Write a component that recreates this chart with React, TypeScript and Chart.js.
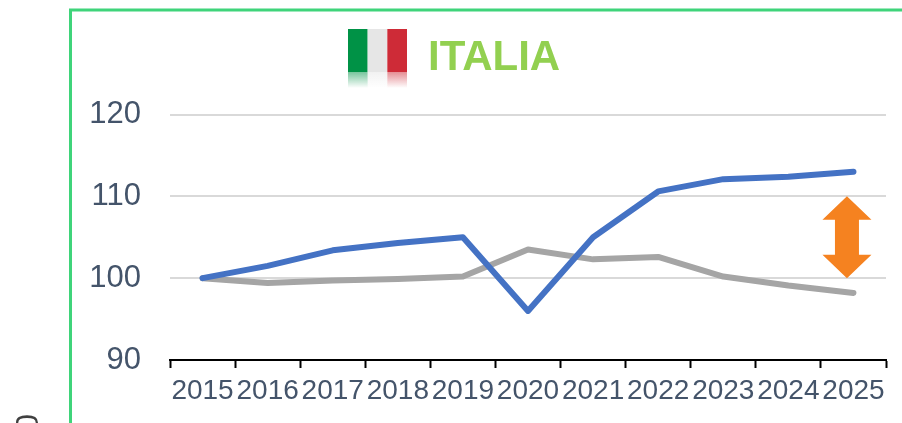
import React, { useEffect, useRef } from "react";
import { Chart, registerables } from "chart.js";

Chart.register(...registerables);

const years = ["2015", "2016", "2017", "2018", "2019", "2020", "2021", "2022", "2023", "2024", "2025"];
const blueSeries = [100, 101.5, 103.4, 104.3, 105, 96, 105, 110.6, 112.1, 112.4, 113];
const graySeries = [100, 99.4, 99.7, 99.9, 100.2, 103.5, 102.3, 102.6, 100.2, 99.1, 98.2];
const yTicks = [90, 100, 110, 120];
const gapFrom = 100;
const gapTo = 110;
const titleText = "ITALIA";
const cutOffLabel = "100";

const font = "'Liberation Sans', Arial, sans-serif";
const tickColor = "#44546a";

const decorations = {
  id: "decorations",
  afterDraw(chart: any) {
    const { ctx, scales } = chart;
    ctx.save();

    // panel border
    ctx.strokeStyle = "#3fd47a";
    ctx.lineWidth = 3;
    ctx.beginPath();
    ctx.moveTo(70.5, 423);
    ctx.lineTo(70.5, 10);
    ctx.lineTo(902, 10);
    ctx.stroke();

    // flag
    const fx = 348, fy = 29, fw = 59, fh = 43, rh = 16;
    const colors = ["#009246", "#e6e6e6", "#ce2b37"];
    colors.forEach((c, i) => {
      ctx.fillStyle = c;
      ctx.fillRect(fx + (i * fw) / 3, fy, fw / 3, fh);
      const g = ctx.createLinearGradient(0, fy + fh, 0, fy + fh + rh);
      g.addColorStop(0, c + "88");
      g.addColorStop(1, c + "00");
      ctx.fillStyle = g;
      ctx.fillRect(fx + (i * fw) / 3, fy + fh, fw / 3, rh);
    });

    // title
    ctx.fillStyle = "#92d050";
    ctx.font = `bold 42px ${font}`;
    ctx.textAlign = "left";
    ctx.textBaseline = "alphabetic";
    ctx.fillText(titleText, 428, 70);

    // double arrow marking the gap
    const cx = scales.x.getPixelForValue(10) - 6.5;
    const top = scales.y.getPixelForValue(gapTo);
    const bottom = scales.y.getPixelForValue(gapFrom);
    const hw = 24.5, sw = 12, hh = 23.5;
    ctx.fillStyle = "#f58220";
    ctx.beginPath();
    ctx.moveTo(cx, top);
    ctx.lineTo(cx + hw, top + hh);
    ctx.lineTo(cx + sw, top + hh);
    ctx.lineTo(cx + sw, bottom - hh);
    ctx.lineTo(cx + hw, bottom - hh);
    ctx.lineTo(cx, bottom);
    ctx.lineTo(cx - hw, bottom - hh);
    ctx.lineTo(cx - sw, bottom - hh);
    ctx.lineTo(cx - sw, top + hh);
    ctx.lineTo(cx - hw, top + hh);
    ctx.closePath();
    ctx.fill();

    // cut-off rotated label at the lower left
    ctx.translate(38, 414);
    ctx.rotate(-Math.PI / 2);
    ctx.fillStyle = "#404040";
    ctx.font = `31px ${font}`;
    ctx.textAlign = "right";
    ctx.textBaseline = "alphabetic";
    ctx.fillText(cutOffLabel, 0, 0);
    ctx.restore();
  },
};

export default function App() {
  const ref = useRef<HTMLCanvasElement>(null);
  useEffect(() => {
    const chart = new Chart(ref.current!, {
      type: "line",
      data: {
        labels: years,
        datasets: [
          { data: blueSeries, borderColor: "#4472c4", borderWidth: 6, pointRadius: 0, tension: 0, borderCapStyle: "round", borderJoinStyle: "round" },
          { data: graySeries, borderColor: "#a5a5a5", borderWidth: 6, pointRadius: 0, tension: 0, borderCapStyle: "round", borderJoinStyle: "round" },
        ],
      },
      options: {
        animation: false,
        responsive: false,
        layout: { padding: { left: 0, top: 114.5, right: 16, bottom: 0 } },
        plugins: { legend: { display: false }, title: { display: false }, tooltip: { enabled: false } },
        scales: {
          x: {
            offset: true,
            afterFit(s: any) { s.height = 63; },
            grid: { offset: true, drawOnChartArea: false, drawTicks: true, tickLength: 8, tickColor: "#000000", tickWidth: 2 },
            border: { color: "#000000", width: 2 },
            ticks: { autoSkip: false, maxRotation: 0, minRotation: 0, padding: 6, color: tickColor, font: { family: font, size: 28 } },
          },
          y: {
            min: 90,
            max: 120,
            afterFit(s: any) { s.width = 170; },
            afterBuildTicks(s: any) { s.ticks = yTicks.map((value) => ({ value })); },
            grid: { color: "#d9d9d9", lineWidth: 2, drawTicks: false },
            border: { display: false },
            ticks: { padding: 29, color: tickColor, font: { family: font, size: 31 } },
          },
        },
      },
      plugins: [decorations],
    } as any);
    return () => chart.destroy();
  }, []);
  return (
    <div style={{ position: "absolute", left: 0, top: 0, width: 902, height: 423, overflow: "hidden", background: "#ffffff" }}>
      <canvas ref={ref} width={902} height={423} style={{ display: "block" }} />
    </div>
  );
}
